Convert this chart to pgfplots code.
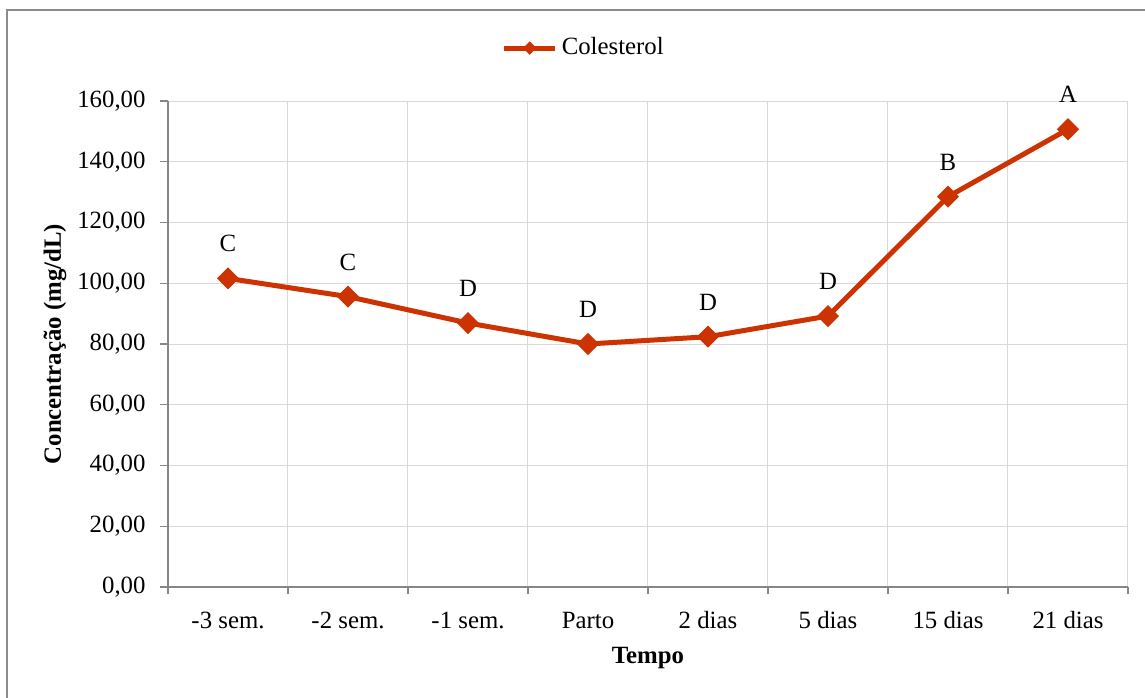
\documentclass[border=0pt]{standalone}
\usepackage{fontspec}
\setmainfont{Liberation Serif}
\usepackage{pgfplots}
\pgfplotsset{compat=1.18}
\usepackage{pgfplotstable}

\definecolor{serie}{RGB}{204,51,0}
\definecolor{eixo}{RGB}{134,134,134}
\definecolor{grade}{RGB}{217,217,217}
\definecolor{moldura}{RGB}{140,140,140}

% Colesterol sérico ao longo do período de transição
\pgfplotstableread{
x y lab
0 101.6 C
1 95.6 C
2 86.9 D
3 80.0 D
4 82.4 D
5 89.2 D
6 128.5 B
7 150.7 A
}\colesterol

\begin{document}
\fontsize{12.4}{15}\selectfont
\begin{tikzpicture}[x=0.5pt,y=0.5pt]
\useasboundingbox (0,0) rectangle (1145,697);
\draw[moldura, line width=1pt] (7,-2) -- (7,687) -- (1147,687);
\begin{axis}[
  at={(84pt,55pt)}, anchor=south west,
  scale only axis, width=480pt, height=243pt,
  xmin=-0.5, xmax=7.5, ymin=0, ymax=160,
  clip=false,
  axis lines=left,
  axis line style={-, draw=eixo, line width=0.6pt},
  xtick={0,...,7},
  xticklabels={-3 sem.,-2 sem.,-1 sem.,Parto,2 dias,5 dias,15 dias,21 dias},
  minor xtick={-0.5,0.5,...,7.5},
  xmajorgrids=false, xminorgrids=true, ymajorgrids=true,
  grid style={draw=grade, line width=0.5pt},
  minor grid style={draw=grade, line width=0.5pt},
  ytick={0,20,...,160},
  tick align=outside,
  major tick length=4pt, minor tick length=3.5pt,
  tick style={draw=eixo, line width=0.6pt},
  major x tick style={draw=none},
  xticklabel style={anchor=base, yshift=-16.5pt},
  yticklabel style={xshift=-2.9pt,
    /pgf/number format/fixed,
    /pgf/number format/fixed zerofill,
    /pgf/number format/precision=2,
    /pgf/number format/use comma,
    /pgf/number format/assume math mode=true},
  xlabel={\bfseries Tempo},
  xlabel style={at={(rel axis cs:0.5,0)}, anchor=base, yshift=-38pt},
  ylabel={\bfseries Concentração (mg/dL)},
  ylabel style={at={(rel axis cs:0,0.5)}, rotate=0, anchor=center, yshift=56.5pt},
  legend style={at={(0.434,1.109)}, anchor=center, draw=none, fill=none,
    inner sep=0pt},
  legend image code/.code={
    \draw[mark repeat=2, mark phase=2, mark size=2.1pt]
      plot coordinates {(0cm,0cm) (0.45cm,0cm) (0.9cm,0cm)};},
  nodes near coords,
  point meta=explicit symbolic,
  every node near coord/.append style={anchor=base, yshift=13.2pt,
    inner sep=0pt, text=black},
]
\addplot[serie, line width=2.5pt, mark=square*,
  mark options={solid, fill=serie, draw=serie, line width=0.5pt, rotate=45},
  mark size=3.65pt]
  table[x=x, y=y, meta=lab] {\colesterol};
\addlegendentry{Colesterol}
\end{axis}
\end{tikzpicture}
\end{document}
